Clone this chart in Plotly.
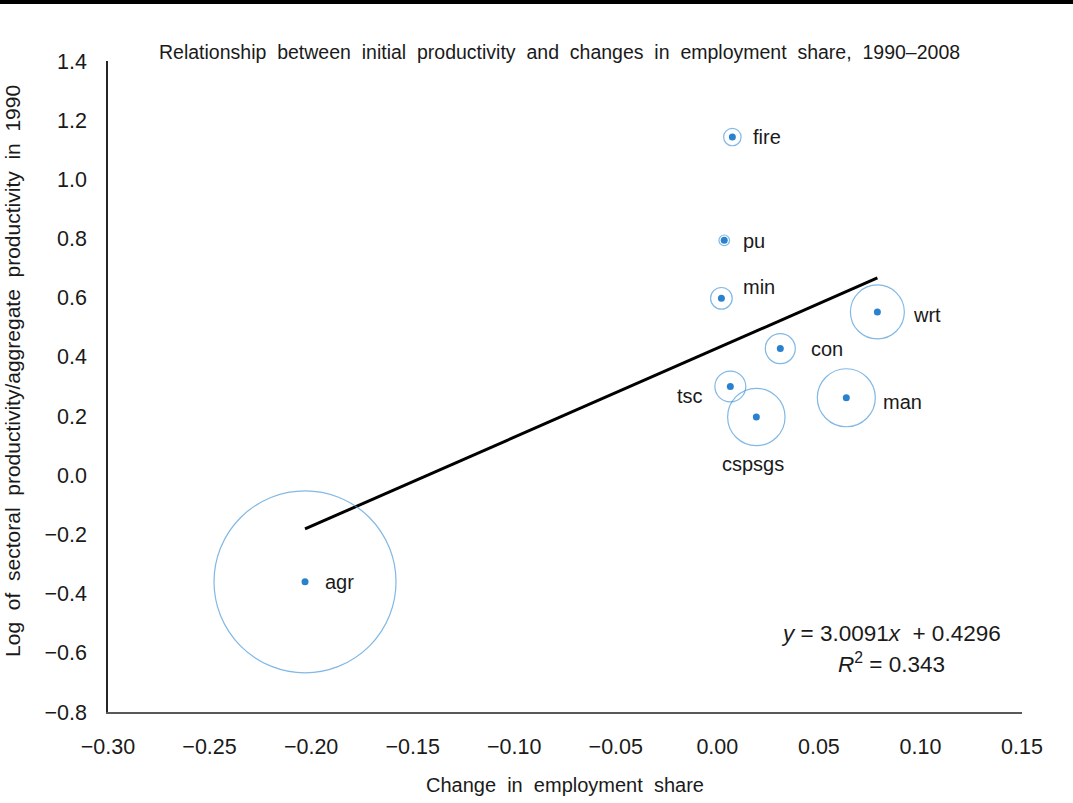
import numpy as np
import plotly.graph_objects as go

# ---- data ----
sectors = ["agr", "min", "man", "pu", "con", "wrt", "tsc", "fire", "cspsgs"]
change_emp_share = [-0.203, 0.0020, 0.0635, 0.0034, 0.0310, 0.0788, 0.0064, 0.0074, 0.0192]
log_rel_productivity = [-0.360, 0.598, 0.262, 0.794, 0.428, 0.552, 0.300, 1.143, 0.197]
employment_share_1990 = [0.729, 0.0103, 0.0740, 0.0025, 0.0198, 0.0640, 0.0210, 0.0067, 0.0725]
slope = 3.0091
intercept = 0.4296
r_squared = 0.343
x_ticks = [-0.30, -0.25, -0.20, -0.15, -0.10, -0.05, 0.00, 0.05, 0.10, 0.15]
y_ticks = [1.4, 1.2, 1.0, 0.8, 0.6, 0.4, 0.2, 0.0, -0.2, -0.4, -0.6, -0.8]

# ---- label placement (pixel offsets, styling only) ----
label_offsets = {
    "agr": (18, 0, "left"),
    "min": (20, 11, "left"),
    "man": (35, -4, "left"),
    "pu": (17, -1, "left"),
    "con": (29, 0, "left"),
    "wrt": (34, -3, "left"),
    "tsc": (-25, -9, "right"),
    "fire": (19, 0, "left"),
    "cspsgs": (-3, -47, "center"),
}

FONT = "Liberation Sans, Arial, sans-serif"
OUTLINE = "#4C9BDB"
DOT = "#2A82CF"
TXT = "#1a1a1a"
SP = "\u00a0 "  # slightly wider word spacing, as in the reference

fig = go.Figure()

# trend line over data range
xl = np.array([min(change_emp_share), max(change_emp_share)])
fig.add_trace(go.Scatter(x=xl, y=slope * xl + intercept, mode="lines",
                         line=dict(color="black", width=3), hoverinfo="skip",
                         showlegend=False))

# bubbles (area proportional to employment share)
fig.add_trace(go.Scatter(
    x=change_emp_share, y=log_rel_productivity, mode="markers",
    marker=dict(size=employment_share_1990, sizemode="area",
                sizeref=2 * 0.729 / 182 ** 2,
                color="rgba(0,0,0,0)", line=dict(color=OUTLINE, width=1.2)),
    showlegend=False, hoverinfo="skip"))

# centre dots
fig.add_trace(go.Scatter(
    x=change_emp_share, y=log_rel_productivity, mode="markers",
    marker=dict(size=7, color=DOT), text=sectors, showlegend=False))

annotations = []
for s, xv, yv in zip(sectors, change_emp_share, log_rel_productivity):
    dx, dy, anc = label_offsets[s]
    annotations.append(dict(x=xv, y=yv, xref="x", yref="y", text=s, showarrow=False,
                            xanchor=anc, yanchor="middle", xshift=dx, yshift=dy,
                            font=dict(family=FONT, size=20, color=TXT)))

title = "Relationship between initial productivity and changes in employment share, 1990\u20132008"
xtitle = "Change in employment share"
ytitle = "Log of sectoral productivity/aggregate productivity in 1990"

annotations += [
    dict(text=title.replace(" ", SP), xref="paper", yref="paper", x=0.494, y=1.0, yshift=9,
         xanchor="center", yanchor="middle", showarrow=False,
         font=dict(family=FONT, size=19.5, color=TXT)),
    dict(text=xtitle.replace(" ", SP), xref="paper", yref="paper", x=0.5, y=0, yshift=-73,
         xanchor="center", yanchor="middle", showarrow=False,
         font=dict(family=FONT, size=20, color=TXT)),
    dict(text=ytitle.replace(" ", SP), xref="paper", yref="paper",
         x=0, xshift=-95, y=0.524, xanchor="center", yanchor="middle", textangle=-90,
         showarrow=False, font=dict(family=FONT, size=21, color=TXT)),
    dict(text="<i>y</i> = %.4f<i>x</i>  + %.4f" % (slope, intercept), xref="paper", yref="paper",
         x=0.857, y=0.121, xanchor="center", yanchor="middle", showarrow=False,
         font=dict(family=FONT, size=22.5, color=TXT)),
    dict(text="<i>R</i><sup>2</sup> = %.3f" % r_squared, xref="paper", yref="paper",
         x=0.857, y=0.075, xanchor="center", yanchor="middle", showarrow=False,
         font=dict(family=FONT, size=22.5, color=TXT)),
]

fig.update_layout(
    width=1073, height=803,
    margin=dict(l=108, r=51, t=61, b=91, pad=0),
    paper_bgcolor="white", plot_bgcolor="white",
    font=dict(family=FONT, color=TXT),
    annotations=annotations,
    shapes=[dict(type="rect", xref="paper", yref="paper", x0=-0.2, x1=1.2,
                 y0=1 + 57 / 651, y1=1 + 64 / 651, fillcolor="black", line=dict(width=0),
                 layer="above")],
    xaxis=dict(range=[-0.30, 0.15], tickvals=x_ticks, tickformat=".2f", showgrid=False,
               zeroline=False, showline=True, linecolor="#595959", linewidth=2,
               ticks="", ticklabelstandoff=14, tickfont=dict(family=FONT, size=21.5, color=TXT)),
    yaxis=dict(range=[-0.8, 1.4], tickvals=y_ticks, tickformat=".1f", showgrid=False,
               zeroline=False, showline=True, linecolor="#262626", linewidth=1.5,
               ticks="", ticklabelstandoff=15, tickfont=dict(family=FONT, size=21.5, color=TXT)),
)

fig.write_html("out.html", config={"displayModeBar": False},
               post_script="document.body.style.margin='0px';")
